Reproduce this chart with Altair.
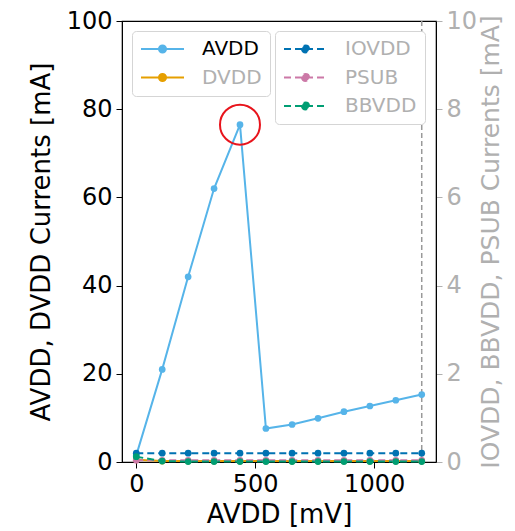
import altair as alt
import pandas as pd

# ---- data ----
avdd_mv = [0, 109, 218, 327, 436, 545, 655, 764, 873, 982, 1091, 1200]
avdd_ma = [1.5, 21.0, 42.0, 62.0, 76.5, 7.6, 8.5, 9.9, 11.4, 12.7, 14.0, 15.3]
dvdd_ma = [0.5, 0.2, 0.2, 0.2, 0.2, 0.2, 0.2, 0.2, 0.2, 0.2, 0.2, 0.2]
iovdd_ma = [0.2, 0.2, 0.2, 0.2, 0.2, 0.2, 0.2, 0.2, 0.2, 0.2, 0.2, 0.2]
psub_ma = [0.04, 0.04, 0.04, 0.04, 0.04, 0.04, 0.04, 0.04, 0.04, 0.04, 0.04, 0.04]
bbvdd_ma = [0.12, 0.02, 0.01, 0.01, 0.01, 0.01, 0.01, 0.01, 0.01, 0.01, 0.01, 0.01]

left_series = ["AVDD", "DVDD"]
left_colors = ["#56B4E9", "#E69F00"]
right_series = ["IOVDD", "PSUB", "BBVDD"]
right_colors = ["#0072B2", "#CC79A7", "#009E73"]

peak_mv = [436]
peak_ma = [76.5]
limit_mv = [1200]

x_ticks = [0, 500, 1000]
left_ticks = [0, 20, 40, 60, 80, 100]
right_ticks = [0, 2, 4, 6, 8, 10]

n = len(avdd_mv)
left_df = pd.DataFrame(
    {"mv": avdd_mv * 2, "ma": avdd_ma + dvdd_ma,
     "series": ["AVDD"] * n + ["DVDD"] * n}
)
right_df = pd.DataFrame(
    {"mv": avdd_mv * 3, "ma": iovdd_ma + psub_ma + bbvdd_ma,
     "series": ["IOVDD"] * n + ["PSUB"] * n + ["BBVDD"] * n}
)

FONT = "DejaVu Sans"
GRAY = "#b0b0b0"
SYMBOL = "M-1,0H1M-0.165,0A0.165,0.165,0,1,0,0.165,0A0.165,0.165,0,1,0,-0.165,0Z"

x_enc = alt.X(
    "mv:Q",
    scale=alt.Scale(domain=[-60, 1260], nice=False, zero=False),
    axis=alt.Axis(values=x_ticks, format="d", title="AVDD [mV]", grid=False, titlePadding=5),
)

legend_common = dict(
    orient="none",
    title=None,
    symbolType=SYMBOL,
    symbolSize=1849,
    symbolStrokeWidth=2,
    clipHeight=20,
    labelFontSize=20,
    labelFont=FONT,
    labelOffset=17,
    labelExpr="datum.label + ' '",
    rowPadding=8.5,
    padding=8,
    strokeColor="#d5d5d5",
    fillColor="white",
    cornerRadius=4,
    legendY=10,
)

left_color = alt.Color(
    "series:N",
    scale=alt.Scale(domain=left_series, range=left_colors),
    legend=alt.Legend(
        legendX=10,
        labelColor=alt.ExprRef("datum.label == 'AVDD' ? 'black' : '" + GRAY + "'"),
        **legend_common,
    ),
)
right_color = alt.Color(
    "series:N",
    scale=alt.Scale(domain=right_series, range=right_colors),
    legend=alt.Legend(legendX=153, labelColor=GRAY, symbolDash=[7, 4], **legend_common),
)

y_left = alt.Y(
    "ma:Q",
    scale=alt.Scale(domain=[0, 100], nice=False),
    axis=alt.Axis(values=left_ticks, title="AVDD, DVDD Currents [mA]", grid=False, titlePadding=12),
)
y_right = alt.Y(
    "ma:Q",
    scale=alt.Scale(domain=[0, 10], nice=False),
    axis=alt.Axis(
        values=right_ticks,
        orient="right",
        title="IOVDD, BBVDD, PSUB Currents [mA]",
        titleAngle=270,
        titleBaseline="top",
        titlePadding=2,
        titleFontSize=25,
        grid=False,
        labelColor=GRAY,
        titleColor=GRAY,
        tickColor=GRAY,
    ),
)

base_l = alt.Chart(left_df).encode(x=x_enc, y=y_left, color=left_color, order="mv:Q")
left_lines = base_l.mark_line(strokeWidth=2)
left_pts = base_l.mark_circle(size=45, opacity=1)

peak = alt.Chart(pd.DataFrame({"mv": peak_mv, "ma": peak_ma})).mark_point(
    shape="circle", size=1600, color="#e8141c", strokeWidth=2, opacity=1
).encode(x="mv:Q", y="ma:Q")

limit = alt.Chart(pd.DataFrame({"mv": limit_mv})).mark_rule(
    color="#999999", strokeDash=[5, 3], strokeWidth=1.5
).encode(x="mv:Q")

base_r = alt.Chart(right_df).encode(x=x_enc, y=y_right, color=right_color, order="mv:Q")
right_lines = base_r.mark_line(strokeWidth=2, strokeDash=[7, 4])
right_pts = base_r.mark_circle(size=45, opacity=1)

left_layer = alt.layer(limit, left_lines, left_pts, peak)
right_layer = alt.layer(right_lines, right_pts)

chart = (
    alt.layer(left_layer, right_layer)
    .resolve_scale(y="independent", color="independent")
    .properties(
        width=314,
        height=441,
        autosize=alt.AutoSizeParams(type="none"),
        padding={"left": 114, "top": 13, "right": 71, "bottom": 66},
    )
    .configure_view(stroke="black", strokeWidth=1.2)
    .configure_axis(
        labelFont=FONT,
        titleFont=FONT,
        labelFontSize=24,
        titleFontSize=26,
        titleFontWeight="normal",
        labelColor="black",
        titleColor="black",
        domainColor="black",
        tickColor="black",
        tickSize=6,
        labelPadding=4,
    )
)

chart.save("out.html", embed_options={"renderer": "svg", "actions": False})
